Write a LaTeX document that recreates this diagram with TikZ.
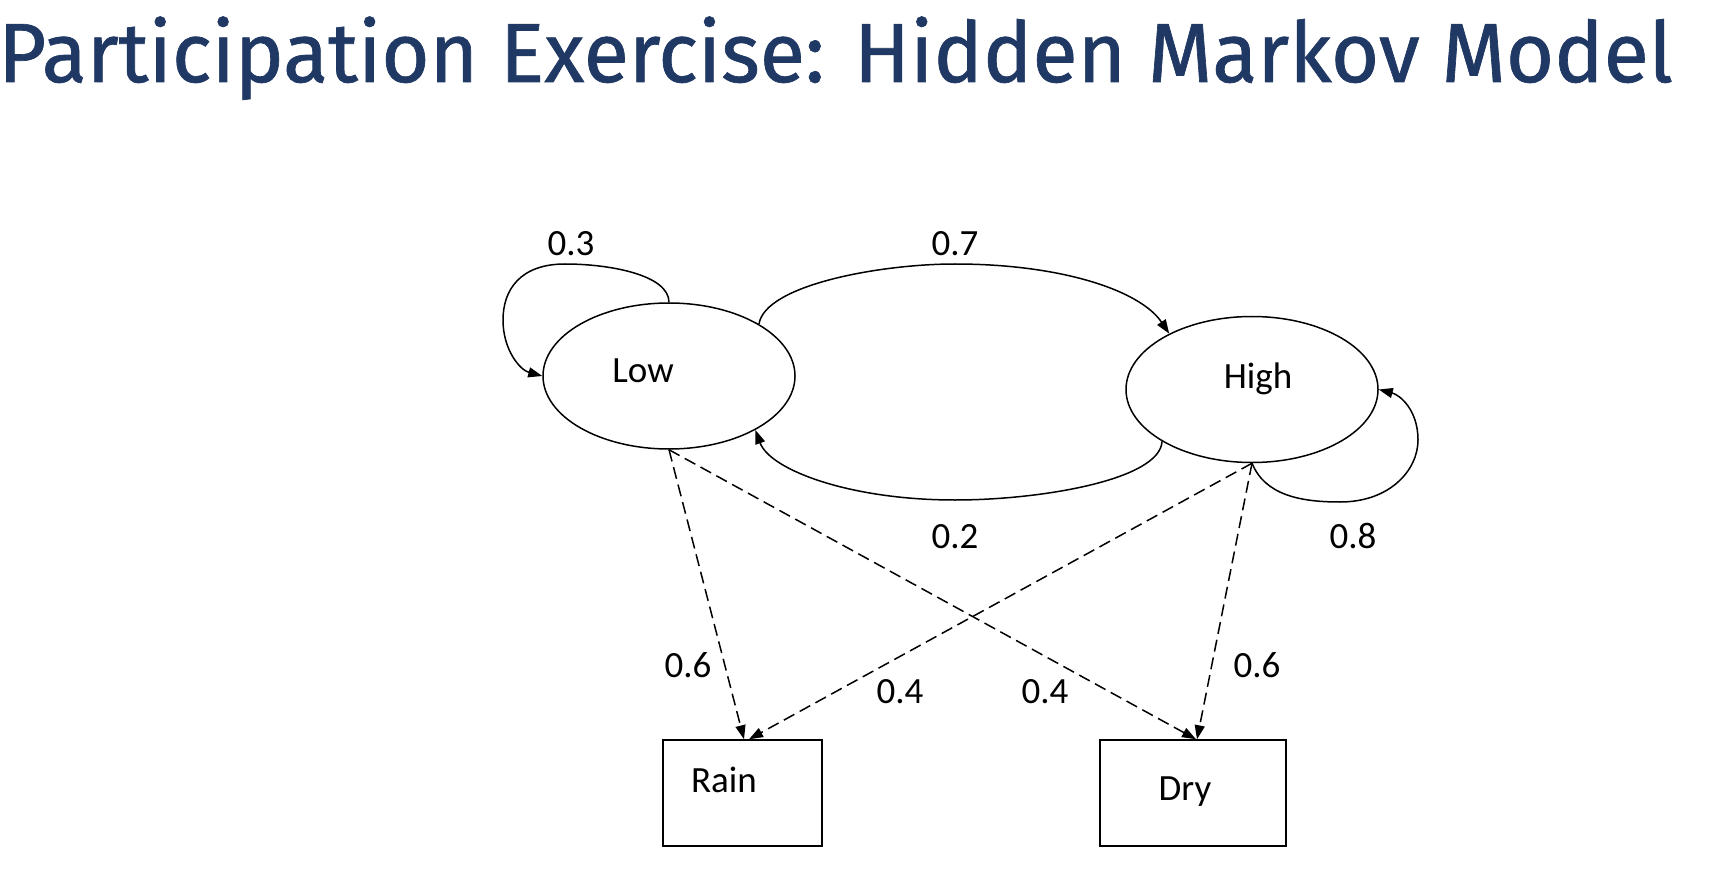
\documentclass[tikz,border=0pt]{standalone}
\usepackage{fontspec}
\setmainfont{Carlito}
\newfontfamily\titlefont[FakeBold=0.8]{Fira Sans}
\usetikzlibrary{shapes.geometric,arrows.meta,calc}
\definecolor{titleblue}{RGB}{32,56,100}
\begin{document}
\begin{tikzpicture}[x=1pt,y=-1pt,
  state/.style={draw,ellipse,line width=1.5pt,minimum width=252pt,minimum height=146pt,inner sep=0pt},
  obs/.style={draw,rectangle,line width=1.5pt,inner sep=0pt},
  lbl/.style={font=\fontsize{37}{40}\selectfont,anchor=base,inner sep=0pt},
  trans/.style={line width=1.5pt,-{Triangle[length=14pt,width=10pt]}},
  emit/.style={line width=1.5pt,dash pattern=on 12pt off 6pt,-{Triangle[length=14pt,width=10pt]}}]
\useasboundingbox (0,0) rectangle (1720,874);
\fill[white] (0,0) rectangle (1720,874);
% title
\node[anchor=base west,inner sep=0pt,text=titleblue,font=\titlefont\fontsize{84}{90}\selectfont,xscale=0.985] (title) at (-2,82) {Participation Exercise: Hidden Markov Model};
% states
\node[state] (low) at (669,376) {};
\node[state] (high) at (1252,389.5) {};
\node[lbl] (lowtxt) at (643,382) {Low};
\node[lbl] (hightxt) at (1258,388) {High};
% observations
\node[obs,minimum width=159pt,minimum height=106pt] (rain) at (742.5,793) {};
\node[obs,minimum width=186pt,minimum height=106pt] (dry) at (1193,793) {};
\node[lbl] (raintxt) at (724,792) {Rain};
\node[lbl] (drytxt) at (1185,800) {Dry};
% transition labels
\node[lbl] (p03) at (571,256) {0.3};
\node[lbl] (p07) at (955,256) {0.7};
\node[lbl] (p02) at (955,548) {0.2};
\node[lbl] (p08) at (1353,548) {0.8};
\node[lbl] (e06l) at (688,677) {0.6};
\node[lbl] (e04l) at (900,703) {0.4};
\node[lbl] (e04r) at (1045,703) {0.4};
\node[lbl] (e06r) at (1257,677) {0.6};
% self loop Low
\draw[trans] (low.north) .. controls (669,275) and (610,264) .. (565,264)
  .. controls (520,264) and (503,290) .. (503,320)
  .. controls (503,350) and (520,370) .. (low.west);
% Low -> High
\draw[trans] (low.30) .. controls (765,285) and (880,264) .. (955,264)
  .. controls (1060,264) and (1140,290) .. (high.146);
% High -> Low
\draw[trans] (high.210) .. controls (1160,480) and (1040,500) .. (955,500)
  .. controls (850,500) and (770,470) .. (low.-32);
% self loop High
\draw[trans] (high.south) .. controls (1265,495) and (1300,502) .. (1340,502)
  .. controls (1390,502) and (1418,470) .. (1418,440)
  .. controls (1418,410) and (1400,395) .. (high.east);
% emissions
\draw[emit] (low.south) -- ([xshift=1.5pt]rain.north);
\draw[emit] (low.south) -- ([xshift=3pt]dry.north);
\draw[emit] (high.south) -- ([xshift=6.5pt]rain.north);
\draw[emit] (high.south) -- ([xshift=4pt]dry.north);
\end{tikzpicture}
\end{document}
